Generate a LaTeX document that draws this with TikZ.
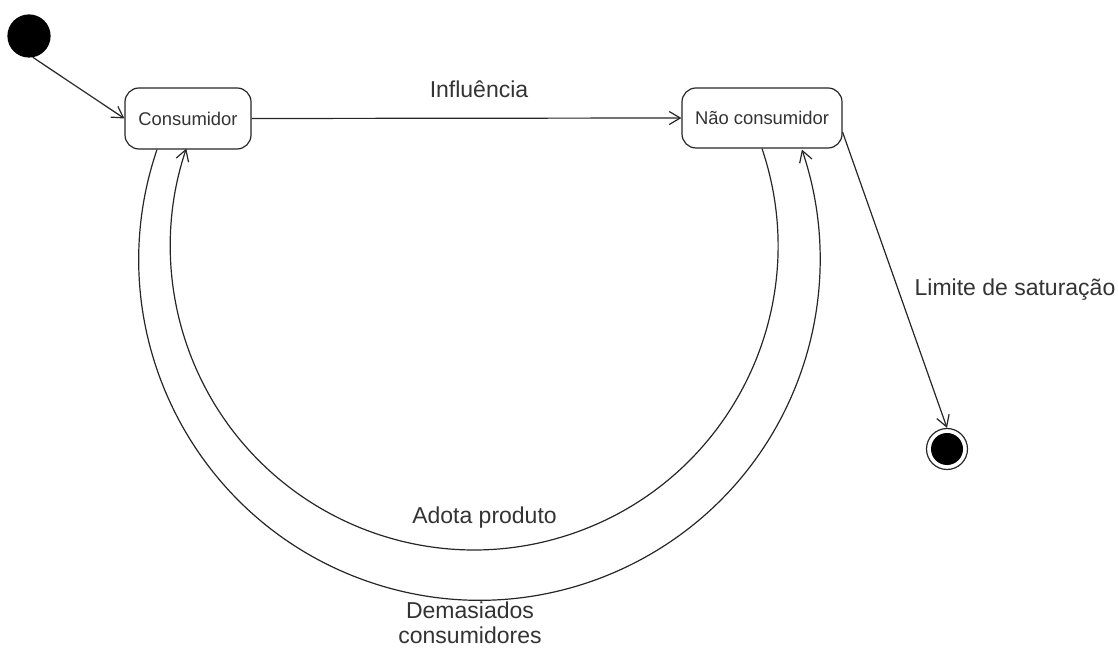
\documentclass[tikz,border=0pt]{standalone}
\usepackage{fontspec}
\setmainfont{Liberation Sans}
\usetikzlibrary{arrows.meta}
\begin{document}
\begin{tikzpicture}[x=1pt,y=1pt,
  line width=1.2pt,
  ink/.style={draw=black!85},
  state/.style={ink, rounded corners=14pt, fill=white, inner sep=0pt,
    text=black!80, font=\fontsize{18.4}{22}\selectfont},
  conn/.style={ink, -{Straight Barb[length=11pt,width=13pt,line width=1.2pt]}},
  plain/.style={ink},
  lbl/.style={inner sep=0pt, anchor=base, text=black!80, font=\fontsize{23}{25}\selectfont}]
\useasboundingbox (0,0) rectangle (1118,648);
% nodes
\node[circle, fill=black, draw=black, minimum size=42pt, inner sep=0pt] (init) at (29,612) {};
\node[state, minimum width=126pt, minimum height=61pt] (cons) at (188,529.5) {Consumidor};
\node[state, minimum width=160pt, minimum height=60pt] (nao) at (762,530) {Não consumidor};
\node[circle, ink, minimum size=41pt, inner sep=0pt,
  path picture={\fill[black] (path picture bounding box.center) circle[radius=16pt];}] (final) at (947,199) {};
% connectors
\draw[conn] (init.-80) -- (cons.west);
\draw[conn] (cons.east) -- (nao.west);
\draw[conn] (nao.-10) -- (final.north);
\draw[conn] (nao.south) arc[start angle=18.7, end angle=-198.7, radius=303.9];
\draw[conn] ([xshift=-31pt]cons.south) arc[start angle=161.17, end angle=378.83, radius=340.7];
% labels
\node[lbl] (linf) at (479,550) {Influência};
\node[lbl, anchor=base west] (llim) at (914,352) {Limite de saturação};
\node[lbl] (lado) at (484.5,125) {Adota produto};
\node[lbl] (ldem1) at (470,30) {Demasiados};
\node[lbl] (ldem2) at (470,5) {consumidores};
\end{tikzpicture}
\end{document}
